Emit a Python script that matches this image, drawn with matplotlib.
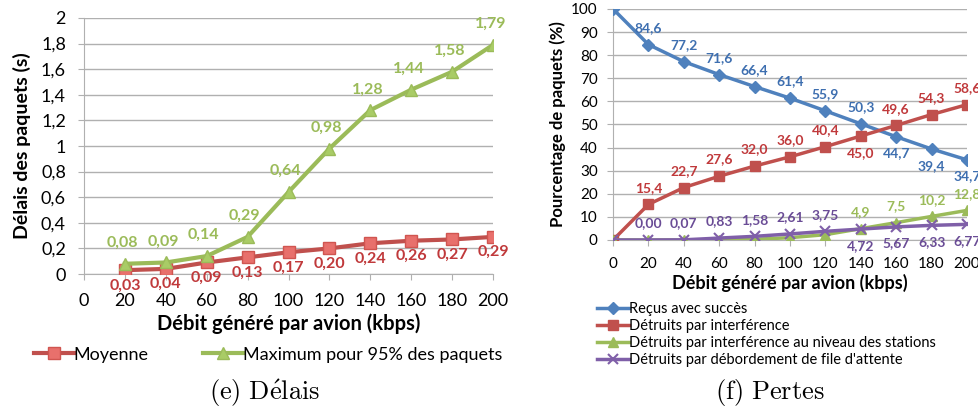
import matplotlib
matplotlib.use("Agg")
import matplotlib.pyplot as plt
import numpy as np

plt.rcParams['font.family'] = ['Lato', 'DejaVu Sans']
plt.rcParams['mathtext.fontset'] = 'cm'

# --- data (e) Délais
debit_e = [20, 40, 60, 80, 100, 120, 140, 160, 180, 200]
moyenne = [0.03, 0.04, 0.09, 0.13, 0.17, 0.20, 0.24, 0.26, 0.27, 0.29]
maximum95 = [0.08, 0.09, 0.14, 0.29, 0.64, 0.98, 1.28, 1.44, 1.58, 1.79]

# --- data (f) Pertes
debit_f = [0, 20, 40, 60, 80, 100, 120, 140, 160, 180, 200]
recus = [100, 84.6, 77.2, 71.6, 66.4, 61.4, 55.9, 50.3, 44.7, 39.4, 34.7]
interf = [0, 15.4, 22.7, 27.6, 32.0, 36.0, 40.4, 45.0, 49.6, 54.3, 58.6]
stations = [0, 0, 0, 0.1, 0.3, 1.0, 2.3, 4.9, 7.5, 10.2, 12.8]
debord = [0, 0.00, 0.07, 0.83, 1.58, 2.61, 3.75, 4.72, 5.67, 6.33, 6.77]

BLUE, RED, GREEN, PURPLE = '#4F81BD', '#C0504D', '#9BBB59', '#7F5FA8'
GRID = '#b0b0b0'

fig = plt.figure(figsize=(9.79, 4.08), dpi=100)


def fr(v, nd):
    return f"{v:.{nd}f}".replace('.', ',')


def style(ax, fs, xpad, ypad):
    for s in ['top', 'right']:
        ax.spines[s].set_visible(False)
    for s in ['left', 'bottom']:
        ax.spines[s].set_color(GRID)
    ax.grid(axis='y', color=GRID, lw=1)
    ax.set_axisbelow(True)
    ax.tick_params(colors=GRID, labelcolor='black', labelsize=fs, length=4)
    ax.tick_params(axis='x', pad=xpad)
    ax.tick_params(axis='y', pad=ypad)


# ---------------- (e)
ax1 = fig.add_axes([0.0858, 0.3284, 0.4178, 0.6275])
ax1.plot(debit_e, moyenne, color=RED, lw=3, marker='s', ms=8,
         mfc='#E8706C', mec='#D05550', label='Moyenne', zorder=3)
ax1.plot(debit_e, maximum95, color=GREEN, lw=3, marker='^', ms=9,
         mfc='#A9CC66', mec='#9BBB59', label='Maximum pour 95% des paquets', zorder=3)
for x, y in zip(debit_e, moyenne):
    ax1.annotate(fr(y, 2), (x, y), xytext=(0, -11), textcoords='offset points',
                 ha='center', va='center', color='#C0393B', fontsize=11.5, fontweight='bold')
for x, y in zip(debit_e, maximum95):
    ax1.annotate(fr(y, 2), (x, y), xytext=(-2, 15), textcoords='offset points',
                 ha='center', va='center', color=GREEN, fontsize=11.5, fontweight='bold')
ax1.set_xlim(0, 200)
ax1.set_ylim(0, 2)
ax1.set_xticks(range(0, 201, 20))
ax1.set_yticks(np.arange(0, 2.01, 0.2))
ax1.set_yticklabels(['0'] + [fr(v, 1) for v in np.arange(0.2, 1.0, 0.2)] + ['1']
                    + [fr(v, 1) for v in np.arange(1.2, 1.9, 0.2)] + ['2'])
style(ax1, 13, 10, 9)
ax1.set_xlabel('Débit généré par avion (kbps)', fontsize=14.5, fontweight='bold', labelpad=3)
ax1.set_ylabel('Délais des paquets (s)', fontsize=14, fontweight='bold', labelpad=7)
ax1.legend(loc='upper center', bbox_to_anchor=(0.45, -0.22), ncol=2, frameon=False,
           fontsize=13, handlelength=2.2, handletextpad=0.0, columnspacing=3.0)

# ---------------- (f)
ax2 = fig.add_axes([0.6262, 0.4118, 0.3615, 0.5662])
series = [
    (recus, BLUE, 'D', 6, 'Reçus avec succès'),
    (interf, RED, 's', 7, 'Détruits par interférence'),
    (stations, GREEN, '^', 7, 'Détruits par interférence au niveau des stations'),
    (debord, PURPLE, 'x', 7, "Détruits par débordement de file d'attente"),
]
for vals, c, m, ms, lab in series:
    ax2.plot(debit_f, vals, color=c, lw=2.5, marker=m, ms=ms, mec=c, label=lab,
             mew=1.5 if m == 'x' else 1, zorder=3)

up_blue = [None, 1, 1, 1, 1, 1, 1, 1, -1, -1, -1]
up_red = [None, 1, 1, 1, 1, 1, 1, -1, 1, 1, 1]
up_green = [None, None, None, None, None, None, None, 1, 1, 1, 1]
up_purple = [None, 1, 1, 1, 1, 1, 1, -1, -1, -1, -1]
for vals, ups, c, nd, lc in [(recus, up_blue, BLUE, 1, '#3E6FB0'),
                             (interf, up_red, RED, 1, '#C0393B'),
                             (stations, up_green, GREEN, 1, GREEN),
                             (debord, up_purple, PURPLE, 2, '#6A4C96')]:
    for x, y, u in zip(debit_f, vals, ups):
        if u is None:
            continue
        txt = fr(y, nd)
        if vals is stations:
            txt = f"{y:g}".replace('.', ',')
        ax2.annotate(txt, (x, y), xytext=(0, 12 * u), textcoords='offset points',
                     ha='center', va='center', color=lc, fontsize=10, fontweight='bold')

ax2.set_xlim(0, 200)
ax2.set_ylim(0, 100)
ax2.set_xticks(range(0, 201, 20))
ax2.set_yticks(range(0, 101, 10))
style(ax2, 11, 8, 7)
ax2.set_xlabel('Débit généré par avion (kbps)', fontsize=13, fontweight='bold', labelpad=2)
ax2.set_ylabel('Pourcentage de paquets (%)', fontsize=12, fontweight='bold', labelpad=4)
ax2.legend(loc='upper left', bbox_to_anchor=(-0.045, -0.27), frameon=False, fontsize=10.5,
           handlelength=2.2, handletextpad=0.0, labelspacing=0.2, borderaxespad=0,
           borderpad=0)

fig.text(265 / 979, 1 - 393 / 408, r'$\mathrm{(e)\ D\acute{e}lais}$', ha='center', va='center', fontsize=19)
fig.text(770 / 979, 1 - 393 / 408, r'$\mathrm{(f)\ Pertes}$', ha='center', va='center', fontsize=19)

fig.savefig('out.png', dpi=100)
